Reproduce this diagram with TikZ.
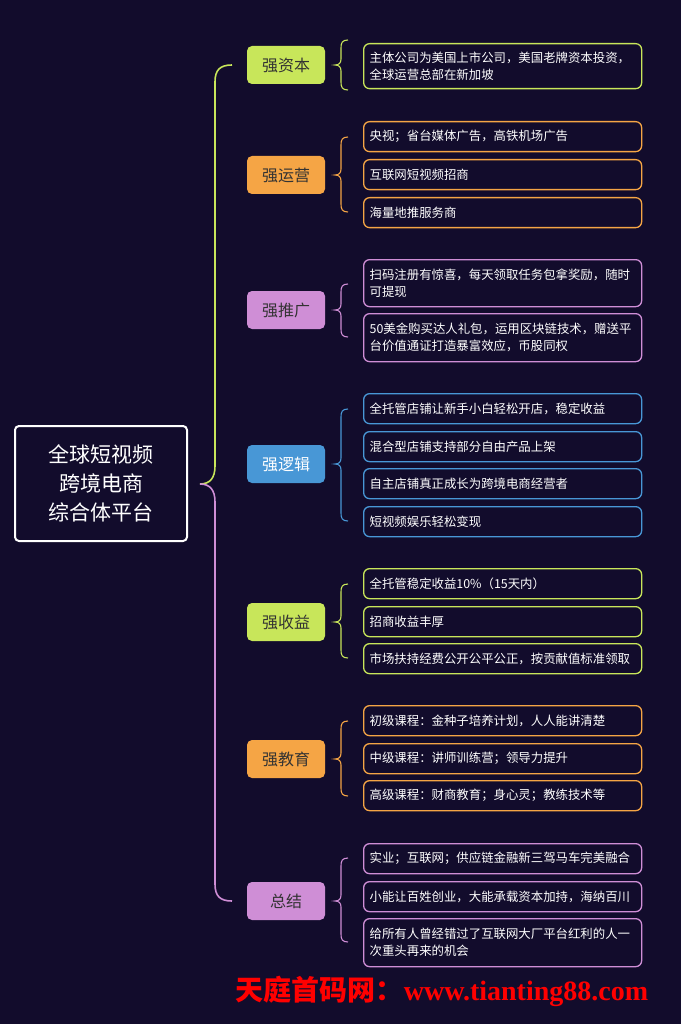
\documentclass[tikz,border=0pt]{standalone}
\usepackage{fontspec}
\setmainfont{Noto Sans CJK SC}
\newfontfamily\wmserif{Liberation Serif}
\begin{document}
\begin{tikzpicture}[x=1pt,y=-1pt,
  cat/.style={rounded corners=5pt, minimum width=78pt, minimum height=38pt, font=\fontsize{16}{18}\selectfont, text=black!80, inner sep=0pt},
  item/.style={rounded corners=6pt, draw, line width=1.3pt, fill=bg, text=white, anchor=north west, minimum width=278pt, text width=266pt, align=left, inner xsep=5pt, font=\fontsize{12.4}{17}\selectfont},
  br/.style={line width=1.1pt}]
\definecolor{bg}{HTML}{120C2C}
\definecolor{cg}{HTML}{C8E65A}
\definecolor{co}{HTML}{F5A545}
\definecolor{cp}{HTML}{CF8ED6}
\definecolor{cb}{HTML}{4897D6}
\fill[bg] (0,0) rectangle (681,1024);
\useasboundingbox (0,0) rectangle (681,1024);
% root
\node[draw=white, line width=2pt, rounded corners=4pt, minimum width=172pt, minimum height=115pt, text=white, align=center, font=\fontsize{21}{29}\selectfont] (root) at (101,483.5) {全球短视频\\跨境电商\\综合体平台};
% main brace
\draw[cg, line width=1.6pt] (232,65) .. controls (220,65) and (215,70) .. (215,82) -- (215,466) .. controls (215,478) and (210,484) .. (200,484);
\draw[cp, line width=1.6pt] (200,484) .. controls (210,484) and (215,490) .. (215,502) -- (215,884) .. controls (215,896) and (220,901) .. (232,901);
\newcommand{\sbrace}[4]{\draw[br,#4] (348,#1) .. controls (342,#1) and (341,#1+3) .. (341,#1+8) -- (341,#3-6) .. controls (341,#3-2) and (339,#3) .. (335,#3) .. controls (339,#3) and (341,#3+2) .. (341,#3+6) -- (341,#2-8) .. controls (341,#2-3) and (342,#2) .. (348,#2);}
% categories
\node[cat, fill=cg] (c1) at (286,65) {强资本};
\node[cat, fill=co] (c2) at (286,175) {强运营};
\node[cat, fill=cp] (c3) at (286,310) {强推广};
\node[cat, fill=cb, text=white] (c4) at (286,464) {强逻辑};
\node[cat, fill=cg] (c5) at (286,622) {强收益};
\node[cat, fill=co] (c6) at (286,759) {强教育};
\node[cat, fill=cp] (c7) at (286,901) {总结};
% items
\node[item, draw=cg, minimum height=45pt] (i11) at (363,43) {主体公司为美国上市公司，美国老牌资本投资，\\全球运营总部在新加坡};
\sbrace{40}{90}{65}{cg}
\node[item, draw=co, minimum height=30pt] (i21) at (363,121) {央视；省台媒体广告，高铁机场广告};
\node[item, draw=co, minimum height=30pt] (i22) at (363,159) {互联网短视频招商};
\node[item, draw=co, minimum height=30pt] (i23) at (363,197) {海量地推服务商};
\sbrace{137}{212}{175}{co}
\node[item, draw=cp, minimum height=47pt] (i31) at (363,259) {扫码注册有惊喜，每天领取任务包拿奖励，随时\\可提现};
\node[item, draw=cp, minimum height=48pt] (i32) at (363,313) {50美金购买达人礼包，运用区块链技术，赠送平\\台价值通证打造暴富效应，币股同权};
\sbrace{284}{337}{310}{cp}
\node[item, draw=cb, minimum height=30pt] (i41) at (363,393) {全托管店铺让新手小白轻松开店，稳定收益};
\node[item, draw=cb, minimum height=30pt] (i42) at (363,431) {混合型店铺支持部分自由产品上架};
\node[item, draw=cb, minimum height=30pt] (i43) at (363,468) {自主店铺真正成长为跨境电商经营者};
\node[item, draw=cb, minimum height=30pt] (i44) at (363,506) {短视频娱乐轻松变现};
\sbrace{409}{521}{464}{cb}
\node[item, draw=cg, minimum height=30pt] (i51) at (363,568) {全托管稳定收益10\%（15天内）};
\node[item, draw=cg, minimum height=30pt] (i52) at (363,606) {招商收益丰厚};
\node[item, draw=cg, minimum height=30pt] (i53) at (363,643) {市场扶持经费公开公平公正，按贡献值标准领取};
\sbrace{584}{658}{622}{cg}
\node[item, draw=co, minimum height=30pt] (i61) at (363,705) {初级课程：金种子培养计划，人人能讲清楚};
\node[item, draw=co, minimum height=30pt] (i62) at (363,743) {中级课程：讲师训练营；领导力提升};
\node[item, draw=co, minimum height=30pt] (i63) at (363,780) {高级课程：财商教育；身心灵；教练技术等};
\sbrace{721}{796}{759}{co}
\node[item, draw=cp, minimum height=30pt] (i71) at (363,843) {实业；互联网；供应链金融新三驾马车完美融合};
\node[item, draw=cp, minimum height=30pt] (i72) at (363,881) {小能让百姓创业，大能承载资本加持，海纳百川};
\node[item, draw=cp, minimum height=48pt] (i73) at (363,918) {给所有人曾经错过了互联网大厂平台红利的人一\\次重头再来的机会};
\sbrace{858}{942}{901}{cp}
% watermark
\node[text=red, font=\fontsize{28}{32}\selectfont\bfseries, anchor=center, inner sep=0pt] (wm) at (442,991) {天庭首码网：{\wmserif\bfseries www.tianting88.com}};
\end{tikzpicture}
\end{document}
